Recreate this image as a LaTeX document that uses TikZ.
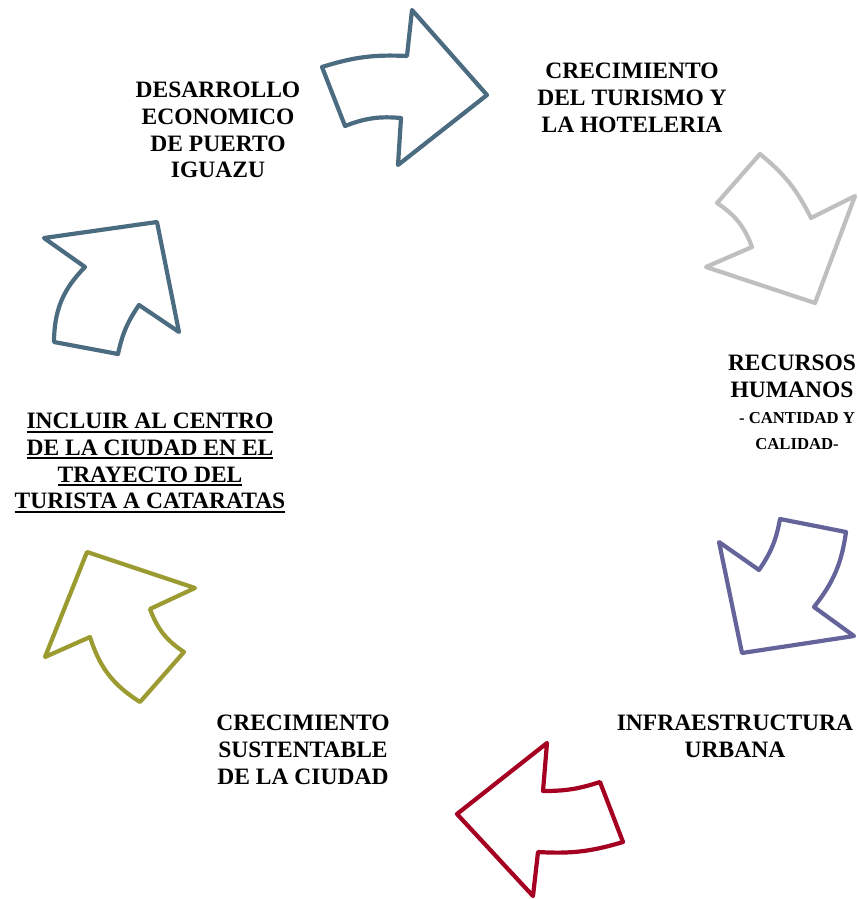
\documentclass[tikz,border=0pt]{standalone}
\usepackage{fontspec}
\setmainfont{Liberation Serif}
\definecolor{slate}{RGB}{75,107,128}
\definecolor{lightgrey}{RGB}{191,191,191}
\definecolor{lavender}{RGB}{100,100,155}
\definecolor{crimson}{RGB}{165,0,33}
\definecolor{olive}{RGB}{155,155,50}
\tikzstyle{cyclearrow}=[line width=4.2pt, line join=round]
\tikzstyle{phase}=[inner sep=0pt, align=center, anchor=north, font=\bfseries\fontsize{23.5}{26.7}\selectfont]
\tikzstyle{phase note}=[inner sep=0pt, align=center, anchor=north, font=\bfseries\fontsize{16.7}{26.5}\selectfont]
\newcommand{\ulline}[1]{\setbox0\hbox{#1}\rlap{\rule[-4pt]{\wd0}{2pt}}\box0}

\begin{document}
\begin{tikzpicture}[x=1pt, y=-1pt]
      \useasboundingbox (0, 0) rectangle (857, 899);

      % arrows, clockwise from the top
      \draw[cyclearrow, slate] (322, 67) to[bend left=10] (407, 56)
        -- (412, 10) -- (487, 95) -- (398, 165) -- (401, 118)
        to[bend right=13] (345, 126) -- cycle;
      \draw[cyclearrow, lightgrey] (760, 154) to[bend left=12] (811, 218)
        -- (855, 196) -- (815, 303) -- (706, 267) -- (752, 247)
        to[bend right=18] (717, 203) -- cycle;
      \draw[cyclearrow, lavender] (759, 570) to[bend right=12] (780, 519)
        -- (846, 532) to[bend left=15] (814, 607)
        -- (854, 636) -- (742, 653) -- (719, 542) -- cycle;
      \draw[cyclearrow, crimson] (457, 814) -- (547, 743) -- (543, 791)
        to[bend right=9] (600, 782) -- (623, 842)
        to[bend left=10] (538, 852) -- (533, 896) -- cycle;
      \draw[cyclearrow, olive] (87, 552) -- (195, 588) -- (150, 609)
        to[bend right=18] (184, 652) -- (140, 702)
        to[bend left=20] (90, 637) -- (45, 657) -- cycle;
      \draw[cyclearrow, slate] (44, 238) -- (157, 222) -- (179, 332) -- (139, 305)
        to[bend right=11] (118, 354) -- (54, 342)
        to[bend left=22] (85, 267) -- cycle;

      % texts
      \node[phase] (desarrollo) at (218, 82) {DESARROLLO\\ECONOMICO\\DE PUERTO\\IGUAZU};
      \node[phase] (turismo) at (632, 63) {CRECIMIENTO\\DEL TURISMO Y\\LA HOTELERIA};
      \node[phase] (recursos) at (792, 355) {RECURSOS\\HUMANOS};
      \node[phase note] (calidad) at (797, 412) {- CANTIDAD Y\\CALIDAD-};
      \node[phase] (infra) at (735, 715) {INFRAESTRUCTURA\\URBANA};
      \node[phase] (sustentable) at (303, 715) {CRECIMIENTO\\SUSTENTABLE\\DE LA CIUDAD};
      \node[phase] (centro) at (150, 413) {\ulline{INCLUIR AL CENTRO}\\\ulline{DE LA CIUDAD EN EL}\\\ulline{TRAYECTO DEL}\\\ulline{TURISTA A CATARATAS}};
    \end{tikzpicture}
\end{document}
